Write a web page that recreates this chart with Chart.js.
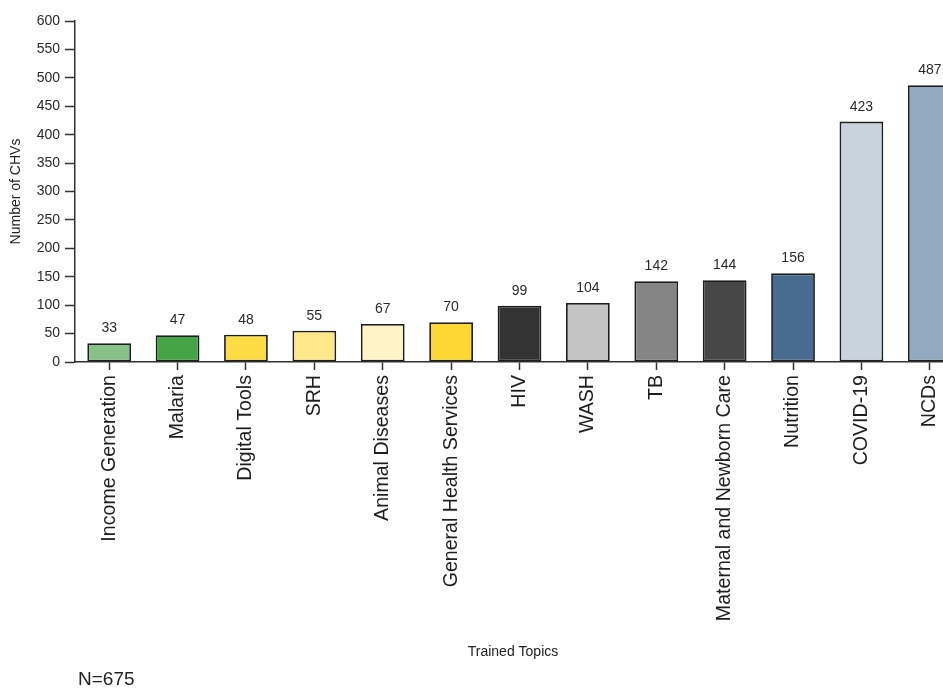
<!DOCTYPE html>
<html>
<head>
<meta charset="utf-8">
<script src="https://cdn.jsdelivr.net/npm/chart.js@4.4.0/dist/chart.umd.min.js"></script>
<style>
  html, body { margin: 0; padding: 0; background: #ffffff; overflow: hidden; }
  #wrap { width: 943px; height: 688px; overflow: hidden; }
  canvas { display: block; }
</style>
</head>
<body>
<div id="wrap"><canvas id="chart" width="980" height="688"></canvas></div>
<script>
// Trained topics and number of CHVs trained in each
const topics = [
  "Income Generation", "Malaria", "Digital Tools", "SRH", "Animal Diseases",
  "General Health Services", "HIV", "WASH", "TB", "Maternal and Newborn Care",
  "Nutrition", "COVID-19", "NCDs"
];
const chvCounts = [33, 47, 48, 55, 67, 70, 99, 104, 142, 144, 156, 423, 487];
const barColors = [
  "#86c287", "#46a446", "#ffdc46", "#ffe88a", "#fff4c6",
  "#fdd835", "#333333", "#c3c3c3", "#858585", "#474747",
  "#486c8f", "#c9d3dd", "#93a9bf"
];
const yTicks = [0, 50, 100, 150, 200, 250, 300, 350, 400, 450, 500, 550, 600];
const sampleNote = "N=675";
const xTitle = "Trained Topics";

const FONT = "'Liberation Sans', Arial, sans-serif";

// Value labels above each bar
const valueLabels = {
  id: "valueLabels",
  afterDatasetsDraw(chart) {
    const ctx = chart.ctx;
    const meta = chart.getDatasetMeta(0);
    const data = chart.data.datasets[0].data;
    ctx.save();
    ctx.font = "14px " + FONT;
    ctx.fillStyle = "#2a2a2a";
    ctx.textAlign = "center";
    ctx.textBaseline = "alphabetic";
    meta.data.forEach((bar, i) => {
      ctx.fillText(String(data[i]), bar.x, bar.y - 11);
    });
    ctx.restore();
  }
};

// Axis caption under the category labels and the sample size note
const footerText = {
  id: "footerText",
  afterDraw(chart) {
    const ctx = chart.ctx;
    ctx.save();
    ctx.fillStyle = "#222222";
    ctx.textBaseline = "middle";
    ctx.font = "14px " + FONT;
    ctx.textAlign = "center";
    ctx.fillText(xTitle, 513, 652);
    ctx.font = "19px " + FONT;
    ctx.textAlign = "left";
    ctx.fillText(sampleNote, 78, 680);
    ctx.restore();
  }
};

new Chart(document.getElementById("chart"), {
  type: "bar",
  data: {
    labels: topics,
    datasets: [{
      data: chvCounts,
      backgroundColor: barColors,
      borderColor: "#1e1e1e",
      borderWidth: 1.8,
      borderSkipped: false,
      categoryPercentage: 1.0,
      barPercentage: 0.64
    }]
  },
  options: {
    responsive: false,
    animation: false,
    events: [],
    layout: { padding: { top: 21, right: 16, bottom: 0, left: 0 } },
    plugins: {
      legend: { display: false },
      tooltip: { enabled: false },
      title: { display: false }
    },
    scales: {
      x: {
        offset: true,
        grid: {
          offset: false,
          drawOnChartArea: false,
          drawTicks: true,
          tickLength: 8,
          tickColor: "#333333",
          tickWidth: 1.5
        },
        border: { display: true, color: "#333333", width: 1.5 },
        ticks: {
          autoSkip: false,
          minRotation: 90,
          maxRotation: 90,
          padding: 5,
          color: "#1e1e1e",
          font: { family: FONT, size: 19.6 }
        },
        afterFit(scale) { scale.height = 326; }
      },
      y: {
        min: 0,
        max: 600,
        afterBuildTicks(scale) { scale.ticks = yTicks.map(v => ({ value: v })); },
        grid: {
          drawOnChartArea: false,
          drawTicks: true,
          tickLength: 10,
          tickColor: "#333333",
          tickWidth: 1.5
        },
        border: { display: true, color: "#333333", width: 1.5 },
        ticks: {
          padding: 5,
          color: "#2a2a2a",
          font: { family: FONT, size: 14 }
        },
        title: {
          display: true,
          text: "Number of CHVs",
          color: "#222222",
          font: { family: FONT, size: 14 },
          padding: { top: 8, bottom: 0 }
        },
        afterFit(scale) { scale.width = 75; }
      }
    }
  },
  plugins: [valueLabels, footerText]
});
</script>
</body>
</html>
